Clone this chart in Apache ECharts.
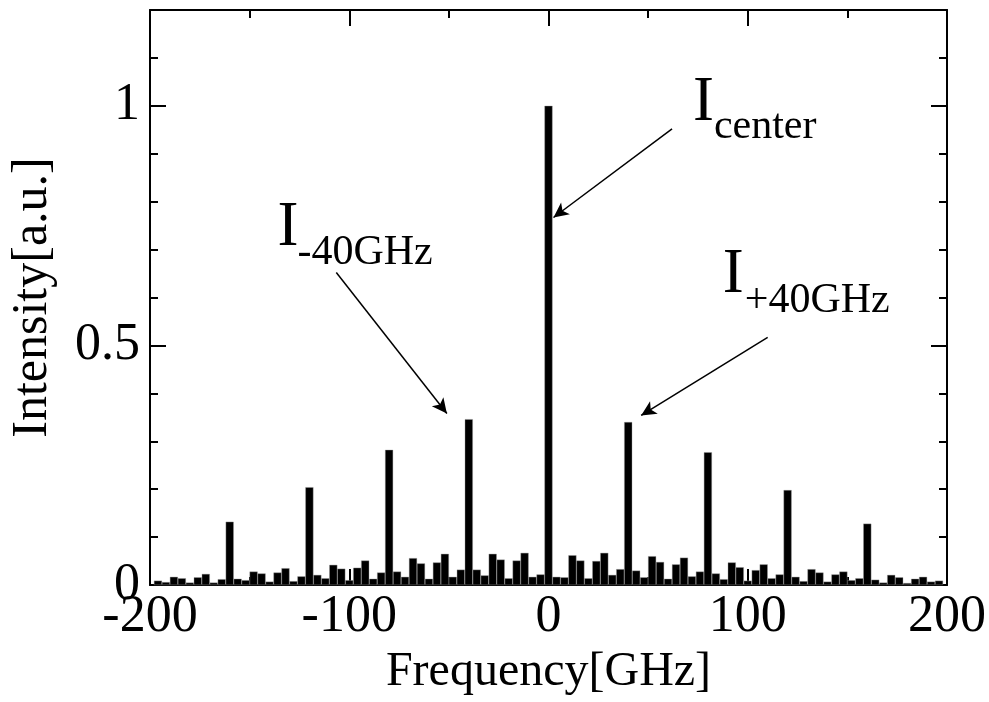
<!DOCTYPE html>
<html>
<head>
<meta charset="utf-8">
<script src="https://cdn.jsdelivr.net/npm/echarts@6/dist/echarts.min.js"></script>
<style>
  html, body { margin: 0; padding: 0; background: #fff; }
  #chart { width: 989px; height: 702px; }
</style>
</head>
<body>
<div id="chart"></div>
<script>
// Spectrum bins (GHz) and measured intensity (a.u.)
const frequencies = [
  -196, -192, -188, -184, -180, -176, -172, -168, -164, -160,
  -156, -152, -148, -144, -140, -136, -132, -128, -124, -120,
  -116, -112, -108, -104, -100, -96, -92, -88, -84, -80,
  -76, -72, -68, -64, -60, -56, -52, -48, -44, -40,
  -36, -32, -28, -24, -20, -16, -12, -8, -4, 0,
  4, 8, 12, 16, 20, 24, 28, 32, 36, 40,
  44, 48, 52, 56, 60, 64, 68, 72, 76, 80,
  84, 88, 92, 96, 100, 104, 108, 112, 116, 120,
  124, 128, 132, 136, 140, 144, 148, 152, 156, 160,
  164, 168, 172, 176, 180, 184, 188, 192, 196
];
const intensities = [
  0.009, 0.006, 0.017, 0.014, 0.005, 0.016, 0.023, 0.005, 0.012, 0.132,
  0.013, 0.010, 0.028, 0.024, 0.007, 0.026, 0.035, 0.008, 0.018, 0.204,
  0.021, 0.014, 0.042, 0.034, 0.010, 0.036, 0.051, 0.013, 0.026, 0.282,
  0.028, 0.017, 0.056, 0.045, 0.013, 0.047, 0.065, 0.017, 0.032, 0.346,
  0.032, 0.020, 0.065, 0.053, 0.014, 0.051, 0.067, 0.017, 0.022, 1.000,
  0.017, 0.016, 0.062, 0.051, 0.014, 0.050, 0.067, 0.021, 0.033, 0.340,
  0.030, 0.016, 0.060, 0.048, 0.013, 0.043, 0.057, 0.018, 0.028, 0.277,
  0.024, 0.012, 0.047, 0.037, 0.009, 0.031, 0.043, 0.014, 0.022, 0.198,
  0.017, 0.008, 0.033, 0.026, 0.007, 0.022, 0.028, 0.010, 0.014, 0.128,
  0.011, 0.005, 0.021, 0.016, 0.004, 0.013, 0.017, 0.007, 0.009
];
const xTickLabels = [-200, -100, 0, 100, 200];
const yTickLabels = [0, 0.5, 1];

// Peak annotations: label text and arrows, anchored in data coordinates
const annotations = [
  { main: 'I', sub: 'center', mainAt: [72.5, 1.004], subAt: [83, 0.956], from: [62, 0.952], to: [2.5, 0.767] },
  { main: 'I', sub: '-40GHz', mainAt: [-136, 0.745], subAt: [-126, 0.692], from: [-106.5, 0.652], to: [-51, 0.358] },
  { main: 'I', sub: '+40GHz', mainAt: [87.5, 0.645], subAt: [98.5, 0.592], from: [110, 0.517], to: [46.5, 0.354] }
];

const FONT = '"Liberation Serif", "Times New Roman", serif';
const BLACK = '#000';

function tickFormatter(list) {
  return function (v) {
    return list.some(t => Math.abs(t - v) < 1e-9) ? String(v) : '';
  };
}

function makeXAxis(position, withLabels) {
  return {
    type: 'value', position: position, min: -200, max: 200, interval: 100,
    axisLine: { show: true, onZero: false, lineStyle: { color: BLACK, width: 2 } },
    axisTick: { show: true, inside: true, length: 16, lineStyle: { color: BLACK, width: 2 } },
    minorTick: { show: true, splitNumber: 2, length: 8, lineStyle: { color: BLACK, width: 2 } },
    splitLine: { show: false },
    axisLabel: {
      show: withLabels, fontFamily: FONT, fontSize: 52, color: BLACK, margin: 6,
      formatter: tickFormatter(xTickLabels)
    },
    name: withLabels ? 'Frequency[GHz]' : '',
    nameLocation: 'middle', nameGap: 52,
    nameTextStyle: { fontFamily: FONT, fontSize: 48, color: BLACK }
  };
}

function makeYAxis(position, withLabels) {
  return {
    type: 'value', position: position, min: 0, max: 1.2, interval: 0.5,
    axisLine: { show: true, onZero: false, lineStyle: { color: BLACK, width: 2 } },
    axisTick: { show: true, inside: true, length: 16, lineStyle: { color: BLACK, width: 2 } },
    minorTick: { show: true, splitNumber: 5, length: 8, lineStyle: { color: BLACK, width: 2 } },
    splitLine: { show: false },
    axisLabel: {
      show: withLabels, fontFamily: FONT, fontSize: 52, color: BLACK, margin: 10,
      showMaxLabel: false,
      formatter: tickFormatter(yTickLabels)
    },
    name: withLabels ? 'Intensity[a.u.]' : '',
    nameLocation: 'middle', nameGap: 92,
    nameTextStyle: { fontFamily: FONT, fontSize: 50, color: BLACK }
  };
}

const chart = echarts.init(document.getElementById('chart'), null, { renderer: 'canvas' });

chart.setOption({
  animation: false,
  backgroundColor: '#fff',
  grid: { left: 150, right: 40, top: 10, bottom: 117, containLabel: false },
  xAxis: [makeXAxis('bottom', true), makeXAxis('top', false)],
  yAxis: [makeYAxis('left', true), makeYAxis('right', false)],
  series: [{
    type: 'bar',
    xAxisIndex: 0, yAxisIndex: 0,
    data: frequencies.map((f, i) => [f, intensities[i]]),
    barWidth: 8,
    itemStyle: { color: BLACK, borderColor: '#9a9a9a', borderWidth: 0.4 },
    silent: true,
    markLine: {
      silent: true,
      symbol: ['none', 'arrow'],
      symbolSize: [11, 15],
      label: { show: false },
      lineStyle: { color: BLACK, width: 1.5, type: 'solid' },
      data: annotations.map(a => [{ coord: a.from }, { coord: a.to }])
    }
  }]
});

// Label text placed from data-space anchors
const labelGraphics = [];
annotations.forEach(a => {
  const pMain = chart.convertToPixel({ xAxisIndex: 0, yAxisIndex: 0 }, a.mainAt);
  const pSub = chart.convertToPixel({ xAxisIndex: 0, yAxisIndex: 0 }, a.subAt);
  labelGraphics.push({
    type: 'text', x: pMain[0], y: pMain[1], silent: true,
    style: { text: a.main, fontFamily: FONT, fontSize: 63, fill: BLACK, align: 'left', verticalAlign: 'middle' }
  });
  labelGraphics.push({
    type: 'text', x: pSub[0], y: pSub[1], silent: true,
    style: { text: a.sub, fontFamily: FONT, fontSize: 42, fill: BLACK, align: 'left', verticalAlign: 'middle' }
  });
});
chart.setOption({ graphic: labelGraphics });
</script>
</body>
</html>
